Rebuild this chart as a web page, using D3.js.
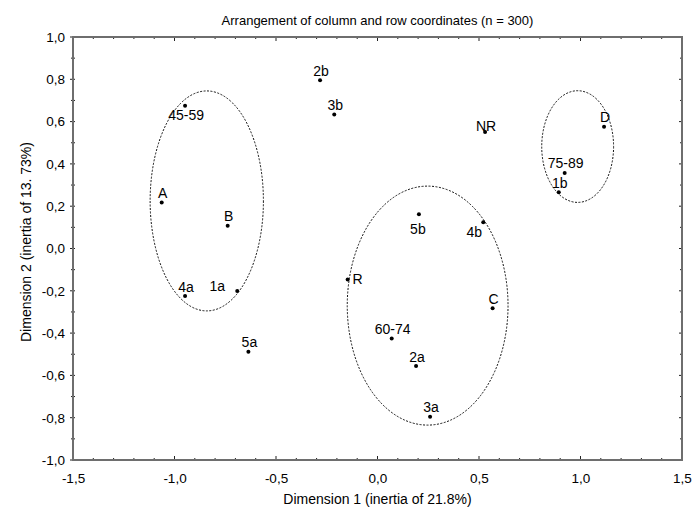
<!DOCTYPE html>
<html>
<head>
<meta charset="utf-8">
<script src="https://cdn.jsdelivr.net/npm/d3@7"></script>
<style>
  html, body { margin: 0; padding: 0; background: #fff; }
  svg text { font-family: "Liberation Sans", Arial, sans-serif; fill: #000; }
</style>
</head>
<body>
<svg id="chart" width="694" height="512"></svg>
<script>
// ---- data ----
const labels = ["45-59","A","B","4a","1a","5a","2b","3b","R","5b","4b","C","60-74","2a","3a","NR","D","75-89","1b"];
const dim1   = [-0.948,-1.063,-0.738,-0.948,-0.691,-0.636,-0.283,-0.213,-0.147,0.204,0.521,0.567,0.070,0.190,0.259,0.530,1.116,0.922,0.893];
const dim2   = [0.675,0.217,0.108,-0.225,-0.201,-0.488,0.795,0.633,-0.146,0.162,0.124,-0.283,-0.425,-0.556,-0.795,0.551,0.576,0.357,0.266];

// cluster ellipses (data units): centre x, centre y, radius x, radius y
const ellipseCx = [-0.841, 0.247, 0.986];
const ellipseCy = [0.225, -0.270, 0.482];
const ellipseRx = [0.279, 0.396, 0.177];
const ellipseRy = [0.520, 0.565, 0.264];

const xTicks = [-1.5,-1.0,-0.5,0.0,0.5,1.0,1.5];
const yTicks = [-1.0,-0.8,-0.6,-0.4,-0.2,0.0,0.2,0.4,0.6,0.8,1.0];

const titleText = "Arrangement of column and row coordinates (n = 300)";
const xTitle = "Dimension 1 (inertia of 21.8%)";
const yTitle = "Dimension 2 (inertia of 13. 73%)";

// ---- layout ----
const W = 694, H = 512;
const m = { left: 73, right: 12, top: 37, bottom: 52 };
const svg = d3.select("#chart");
const x = d3.scaleLinear().domain([-1.5, 1.5]).range([m.left, W - m.right]);
const y = d3.scaleLinear().domain([-1.0, 1.0]).range([H - m.bottom, m.top]);
const fmt = v => d3.format(".1f")(v).replace(".", ",").replace("−", "-");

// label placement relative to the point (by label)
const labelPlace = {
  "45-59": [1, 14], "R": [10, 5], "1a": [-20, 0], "5b": [-1, 20], "4b": [-9, 15],
  "NR": [1, -1]
};
const defaultPlace = [1, -4.5];

// minor tick positions
const xMinor = d3.range(-15, 16).map(v => v / 10);
const yMinor = d3.range(-10, 11).map(v => v / 10);

const x0 = m.left, x1 = W - m.right, y0 = H - m.bottom, y1 = m.top;

// ticks
const tickG = svg.append("g").attr("stroke", "#222").attr("stroke-width", 1);
xMinor.forEach(v => {
  const major = Math.abs(Math.round(v * 10) % 5) === 0;
  const len = major ? 4 : 2;
  tickG.append("line").attr("x1", x(v)).attr("x2", x(v)).attr("y1", y0).attr("y2", y0 - len);
  tickG.append("line").attr("x1", x(v)).attr("x2", x(v)).attr("y1", y1).attr("y2", y1 + len);
});
yMinor.forEach(v => {
  const major = Math.abs(Math.round(v * 10) % 2) === 0;
  const len = major ? 3 : 2;
  tickG.append("line").attr("x1", x0 - len).attr("x2", x0 + 2).attr("y1", y(v)).attr("y2", y(v));
  tickG.append("line").attr("x1", x1).attr("x2", x1 - len).attr("y1", y(v)).attr("y2", y(v));
});

// frame
svg.append("rect").attr("x", x0).attr("y", y1).attr("width", x1 - x0).attr("height", y0 - y1)
  .attr("fill", "none").attr("stroke", "#6e6e6e").attr("stroke-width", 2);

// tick labels via axes (tick marks hidden)
const xAxis = svg.append("g").attr("transform", `translate(0,${y0})`)
  .call(d3.axisBottom(x).tickValues(xTicks).tickFormat(fmt).tickSize(0).tickPadding(13));
xAxis.select(".domain").remove();
xAxis.selectAll("text").attr("font-size", 13.5).attr("font-family", "Liberation Sans, Arial, sans-serif");

const yAxis = svg.append("g").attr("transform", `translate(${x0 - 8},0)`)
  .call(d3.axisLeft(y).tickValues(yTicks).tickFormat(fmt).tickSize(0).tickPadding(0));
yAxis.select(".domain").remove();
yAxis.selectAll("text").attr("font-size", 13.5).attr("font-family", "Liberation Sans, Arial, sans-serif");

// ellipses
const ell = ellipseCx.map((cx, i) => ({ cx, cy: ellipseCy[i], rx: ellipseRx[i], ry: ellipseRy[i] }));
svg.append("g").selectAll("ellipse").data(ell).join("ellipse")
  .attr("cx", d => x(d.cx)).attr("cy", d => y(d.cy))
  .attr("rx", d => x(d.cx + d.rx) - x(d.cx)).attr("ry", d => y(d.cy) - y(d.cy + d.ry))
  .attr("fill", "none").attr("stroke", "#111").attr("stroke-width", 1)
  .attr("stroke-dasharray", "2,1.5");

// points
const pts = labels.map((l, i) => ({ l, x: dim1[i], y: dim2[i] }));
svg.append("g").selectAll("circle").data(pts).join("circle")
  .attr("cx", d => x(d.x)).attr("cy", d => y(d.y)).attr("r", 2).attr("fill", "#000");

svg.append("g").selectAll("text").data(pts).join("text")
  .attr("x", d => x(d.x) + (labelPlace[d.l] || defaultPlace)[0])
  .attr("y", d => y(d.y) + (labelPlace[d.l] || defaultPlace)[1])
  .attr("text-anchor", "middle").attr("font-size", 14)
  .text(d => d.l);

// titles
svg.append("text").attr("x", (x0 + x1) / 2).attr("y", 25).attr("text-anchor", "middle")
  .attr("font-size", 13).text(titleText);
svg.append("text").attr("x", (x0 + x1) / 2).attr("y", 504).attr("text-anchor", "middle")
  .attr("font-size", 14).text(xTitle);
svg.append("text").attr("transform", `translate(31,242) rotate(-90)`)
  .attr("text-anchor", "middle").attr("font-size", 14).text(yTitle);
</script>
</body>
</html>
